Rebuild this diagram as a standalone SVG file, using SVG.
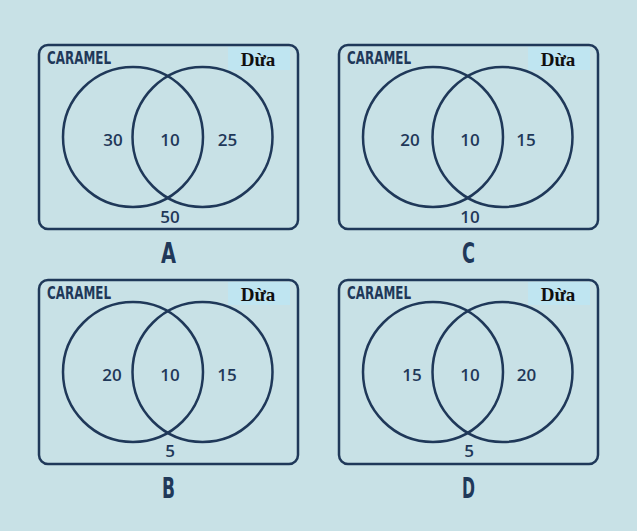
<svg xmlns="http://www.w3.org/2000/svg" width="637" height="531" viewBox="0 0 637 531">
<style>
.bg{fill:#c8e1e6}
.frame{fill:none;stroke:#1f3859;stroke-width:2.5}
.c{fill:none;stroke:#1f3859;stroke-width:2.5}
.tag{fill:#bfe5f1}
.cap{font-family:"DejaVu Sans Condensed","DejaVu Sans","Liberation Sans",sans-serif;font-stretch:condensed;font-weight:bold;font-size:17.5px;fill:#1f3859}
.dua{font-family:"Liberation Serif","DejaVu Serif",serif;font-weight:bold;font-size:19px;fill:#101010;text-anchor:middle}
.n{font-family:"Open Sans","Noto Sans",sans-serif;font-weight:600;font-size:17px;fill:#1f3859;text-anchor:middle}
.big{font-family:"DejaVu Sans Condensed","DejaVu Sans","Liberation Sans",sans-serif;font-stretch:condensed;font-weight:bold;font-size:28px;fill:#1f3859}
</style>
<defs>
<g id="venn">
<rect class="frame" x="39" y="45" width="259" height="184" rx="9"/>
<rect class="tag" x="228" y="47" width="62" height="23"/>
<circle class="c" cx="133" cy="137" r="70"/>
<circle class="c" cx="202.5" cy="137" r="70"/>
<text class="cap" x="47" y="64" textLength="64" lengthAdjust="spacingAndGlyphs">CARAMEL</text>
<text class="dua" x="258" y="66">Dừa</text>
</g>
</defs>
<rect class="bg" x="0" y="0" width="637" height="531"/>
<g id="panel-A">
<use href="#venn"/>
<text class="n" x="113" y="146">30</text>
<text class="n" x="170" y="146">10</text>
<text class="n" x="227.5" y="146">25</text>
<text class="n" x="170" y="223">50</text>
<text class="big" x="161" y="263" textLength="15" lengthAdjust="spacingAndGlyphs">A</text>
</g>
<g id="panel-C">
<use href="#venn" transform="translate(300,0)"/>
<text class="n" x="410" y="146">20</text>
<text class="n" x="470" y="146">10</text>
<text class="n" x="526" y="146">15</text>
<text class="n" x="470" y="223">10</text>
<text class="big" x="462" y="263" textLength="13" lengthAdjust="spacingAndGlyphs">C</text>
</g>
<g id="panel-B">
<use href="#venn" transform="translate(0,235)"/>
<text class="n" x="112" y="381">20</text>
<text class="n" x="170" y="381">10</text>
<text class="n" x="227" y="381">15</text>
<text class="n" x="170" y="457">5</text>
<text class="big" x="162" y="498" textLength="13" lengthAdjust="spacingAndGlyphs">B</text>
</g>
<g id="panel-D">
<use href="#venn" transform="translate(300,235)"/>
<text class="n" x="412" y="381">15</text>
<text class="n" x="470" y="381">10</text>
<text class="n" x="526.5" y="381">20</text>
<text class="n" x="469" y="457">5</text>
<text class="big" x="462" y="498" textLength="13" lengthAdjust="spacingAndGlyphs">D</text>
</g>
<g id="connectors"/>
</svg>
